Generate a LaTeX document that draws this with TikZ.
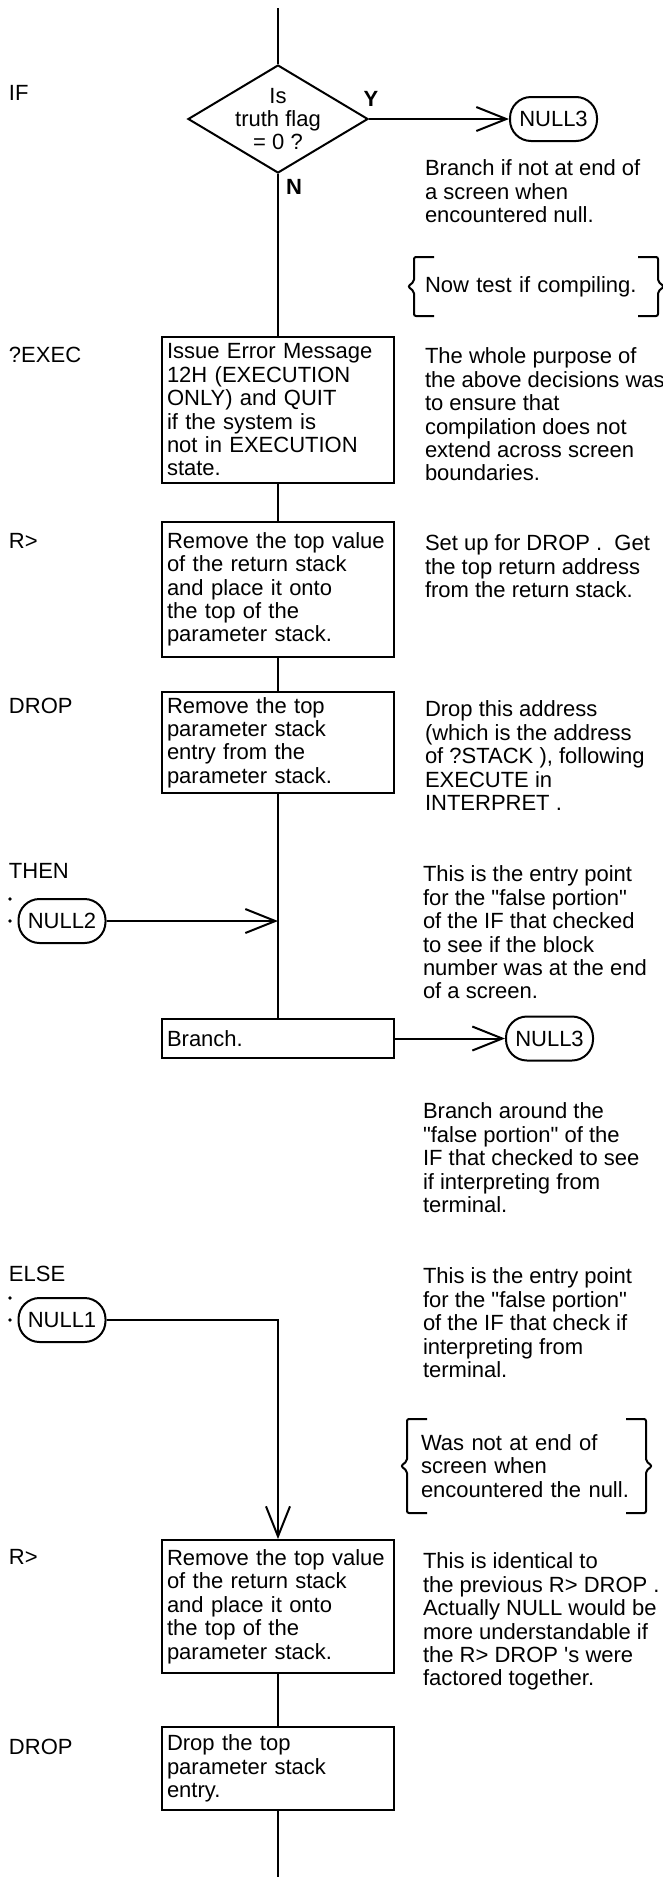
\documentclass[tikz,border=0pt]{standalone}
\usepackage{fontspec}
\setmainfont{Liberation Sans}
\usetikzlibrary{arrows.meta, positioning, shapes.geometric}

\begin{document}
\begin{tikzpicture}[x=1pt, y=-1pt, line width=2pt,
    font=\fontsize{22}{23.4}\selectfont,
    >={Straight Barb[length=30pt, width=24pt]},
    proc/.style={draw, align=left, text width=222pt, inner xsep=5pt, inner ysep=0pt},
    term/.style={draw, rounded corners=21pt, minimum width=87pt, minimum height=44pt, inner sep=0pt},
    word/.style={anchor=west, inner sep=0pt},
    note/.style={anchor=north west, align=left, inner sep=0pt},
    yn/.style={font=\fontsize{22}{24}\selectfont\bfseries, inner sep=0pt},
    brk/.style={align=left, inner ysep=0pt}]
\useasboundingbox (0,0) rectangle (663,1877);

% main column
\coordinate (top) at (278,8);
\node[draw, diamond, minimum width=180pt, minimum height=108pt, inner sep=0pt] (dia) at (278,119) {};
\node[align=center, inner sep=0pt] (diatxt) at (dia.center) {Is\\truth flag\\= 0 ?};
\node[yn] (ylab) at (371,99) {Y};
\node[yn] (nlab) at (294,187) {N};
\node[term, right=140pt of dia] (null3a) {NULL3};

\node[proc, minimum height=146pt] (qexec) at (278,410) {Issue Error Message\\12H (EXECUTION\\ONLY) and QUIT\\if the system is\\not in EXECUTION\\state.};
\node[proc, minimum height=135pt] (rfrom) at (278,589.5) {Remove the top value\\of the return stack\\and place it onto\\the top of the\\parameter stack.};
\node[proc, minimum height=101pt] (drop) at (278,742.5) {Remove the top\\parameter stack\\entry from the\\parameter stack.};
\node[term] (null2) at (62,921) {NULL2};
\node[proc, minimum height=39pt] (branch) at (278,1038.5) {Branch.};
\node[term, right=110pt of branch] (null3b) {NULL3};
\node[term] (null1) at (62,1320) {NULL1};
\node[proc, minimum height=133pt] (rfromb) at (278,1606.5) {Remove the top value\\of the return stack\\and place it onto\\the top of the\\parameter stack.};
\node[proc, minimum height=83pt] (dropb) at (278,1768.5) {Drop the top\\parameter stack\\entry.};
\coordinate (bot) at (278,1877);

% word names
\node[word] (wif) at (8,93) {IF};
\node[word] (wexec) at (8,355) {?EXEC};
\node[word] (wrfrom) at (8,541) {R>};
\node[word] (wdrop) at (8,706) {DROP};
\node[word] (wthen) at (8,871) {THEN};
\node[word] (welse) at (8,1274) {ELSE};
\node[word] (wrfromb) at (8,1557) {R>};
\node[word] (wdropb) at (8,1747) {DROP};

\fill ([xshift=-52pt]null2.center) circle (1.8pt);
\fill ([xshift=-52pt, yshift=22pt]null2.center) circle (1.8pt);
\fill ([xshift=-52pt]null1.center) circle (1.8pt);
\fill ([xshift=-52pt, yshift=22pt]null1.center) circle (1.8pt);

% comments
\node[note] (cmtif) at (424,159) {Branch if not at end of\\a screen when\\encountered null.};
\node[brk, text width=222pt, inner xsep=10pt, minimum height=57pt] (cmtcomp) at (536,286.5) {Now test if compiling.};
\node[note] (cmtexec) at (424,347) {The whole purpose of\\the above decisions was\\to ensure that\\compilation does not\\extend across screen\\boundaries.};
\node[note] (cmtrfrom) at (424,534) {Set up for DROP .\ \ Get\\the top return address\\from the return stack.};
\node[note] (cmtdrop) at (424,700) {Drop this address\\(which is the address\\of ?STACK ), following\\EXECUTE in\\INTERPRET .};
\node[note] (cmtthen) at (422,865) {This is the entry point\\for the \textquotedbl false portion\textquotedbl\\of the IF that checked\\to see if the block\\number was at the end\\of a screen.};
\node[note] (cmtbranch) at (422,1102) {Branch around the\\\textquotedbl false portion\textquotedbl{} of the\\IF that checked to see\\if interpreting from\\terminal.};
\node[note] (cmtelse) at (422,1267) {This is the entry point\\for the \textquotedbl false portion\textquotedbl\\of the IF that check if\\interpreting from\\terminal.};
\node[brk, text width=211pt, inner xsep=13pt, minimum height=92pt] (cmtnull) at (526.5,1466) {Was not at end of\\screen when\\encountered the null.};
\node[note] (cmtrfromb) at (422,1552) {This is identical to\\the previous R> DROP .\\Actually NULL would be\\more understandable if\\the R> DROP \textquotesingle s were\\factored together.};

% braces
\foreach \c in {cmtcomp, cmtnull} {
  \draw[rounded corners=2pt] ([xshift=20pt]\c.north west) -- (\c.north west) -- ([yshift=5pt]\c.west) -- ([xshift=-6pt]\c.west) -- ([yshift=-5pt]\c.west) -- (\c.south west) -- ([xshift=20pt]\c.south west);
  \draw[rounded corners=2pt] ([xshift=-20pt]\c.north east) -- (\c.north east) -- ([yshift=5pt]\c.east) -- ([xshift=6pt]\c.east) -- ([yshift=-5pt]\c.east) -- (\c.south east) -- ([xshift=-20pt]\c.south east);
}

% flow
\draw (top) -- (dia.north);
\draw[->] (dia.east) -- (null3a.west);
\draw (dia.south) -- (qexec.north);
\draw (qexec.south) -- (rfrom.north);
\draw (rfrom.south) -- (drop.north);
\draw (drop.south) -- (branch.north);
\draw[->] (null2.east) -- (null2 -| branch.north);
\draw[->] (branch.east) -- (null3b.west);
\draw[->] (null1.east) -| (rfromb.north);
\draw (rfromb.south) -- (dropb.north);
\draw (dropb.south) -- (bot);
\end{tikzpicture}
\end{document}
